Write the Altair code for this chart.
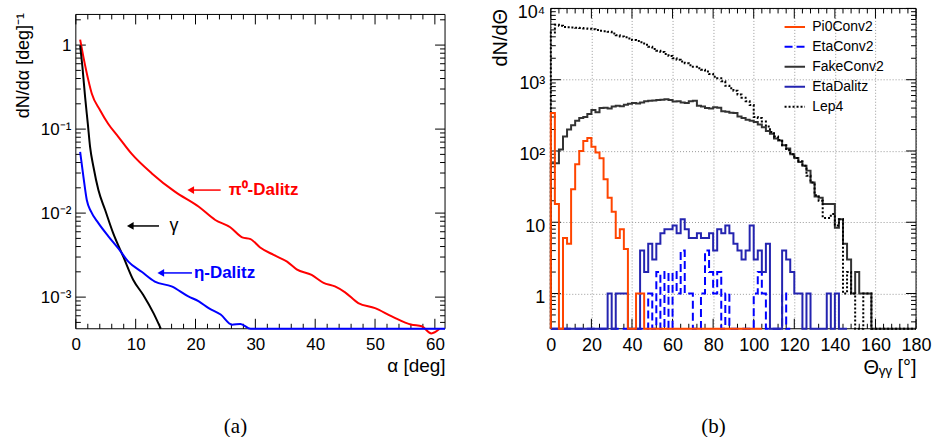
import altair as alt
import pandas as pd

FONT = "Liberation Sans"

# ---------------- panel (a) data: opening-angle distributions ----------------
pi0_x = [0.72, 1.27, 2.1, 2.66, 4.05, 5.4, 7.1, 9.3, 12.7, 16.55, 20.55, 23.3, 25.8, 27.8,
         29.2, 30.8, 33.05, 35.3, 36.9, 39.4, 41.4, 43.3, 45.0, 47.2, 50.0, 52.8, 56.1,
         57.8, 59.4, 60.8]
pi0_y = [1.16, 0.72, 0.38, 0.265, 0.168, 0.116, 0.081, 0.051, 0.0297, 0.018, 0.0119,
         0.00828, 0.00678, 0.00515, 0.0049, 0.0039, 0.00318, 0.00264, 0.00214, 0.00184,
         0.00148, 0.00134, 0.00114, 0.00085, 0.00074, 0.00059, 0.00047, 0.00045, 0.00037,
         0.00042]
gam_x = [0.72, 1.1, 1.55, 2.0, 2.38, 2.94, 3.77, 4.9, 6.27, 7.93, 9.6, 11.27, 13.0, 14.2]
gam_y = [0.99, 0.55, 0.24, 0.116, 0.0616, 0.0356, 0.0188, 0.0109, 0.0057, 0.00303, 0.0016,
         0.00106, 0.00064, 0.00042]
eta_x = [0.72, 1.27, 1.83, 2.55, 3.77, 5.44, 7.1, 8.77, 11.0, 13.2, 16.0, 18.8, 20.55, 22.2,
         24.2, 26.1, 27.5, 29.2, 61.7]
eta_y = [0.0537, 0.027, 0.0143, 0.0104, 0.0076, 0.0053, 0.0038, 0.00265, 0.0020, 0.00153,
         0.00134, 0.00102, 0.00089, 0.00074, 0.00062, 0.00047, 0.00048, 0.00042, 0.00042]

ann_text = ["π⁰-Dalitz", "γ", "η-Dalitz"]
ann_color = ["#ff0000", "#000000", "#0000ff"]
ann_weight = ["bold", "normal", "bold"]
ann_text_x = [25.2, 15.3, 19.4]
ann_tail_x = [24.2, 13.9, 19.4]
ann_head_x = [19.2, 9.1, 14.2]
ann_y = [0.0188, 0.00703, 0.00194]

# ---------------- panel (b) data: 2-degree bins starting at 0 ----------------
BIN = 2
pi0conv2 = [340, 18, 0, 6, 5, 29, 65, 100, 138, 152, 115, 95, 79, 40, 22, 14, 6, 8, 4.2,
            0, 0, 1, 1, 0, 0, 0, 0, 0, 0, 0, 0, 0, 0, 0, 0, 0, 0, 0, 0, 0, 0, 0, 0, 0, 0,
            0, 0, 0, 0, 0, 0, 0]
etaconv2 = [0, 0, 0, 0, 0, 0, 0, 0, 0, 0, 0, 0, 0, 0, 0, 0, 0, 0, 0, 0, 0, 0, 0, 0,
            1, 0, 2, 0, 2, 0, 2, 1, 4, 1, 1, 0, 0, 1, 4, 2, 1, 2, 0, 1, 0, 0, 0, 0, 0,
            0, 1, 2, 1, 0, 0, 0, 0, 1, 0]
fakeconv2 = [67, 67, 105, 160, 200, 230, 265, 290, 300, 330, 375, 350, 400, 405, 395, 420,
             430, 425, 445, 460, 470, 465, 480, 500, 505, 510, 520, 525, 530, 520, 495, 500,
             480, 470, 500, 505, 430, 420, 400, 395, 410, 405, 360, 355, 345, 340, 305, 290,
             275, 265, 255, 235, 215, 190, 175, 150, 140, 120, 108, 90, 80, 70, 62, 53, 36,
             23, 22, 18, 18, 18, 8.4, 11, 5, 3, 1, 2, 1, 1, 1, 0, 0, 0, 0, 0, 0, 0, 0, 0,
             0, 0]
etadalitz = [0, 0, 0, 0, 0, 0, 0, 0, 0, 0, 0, 0, 0, 0, 1, 0, 1, 1, 1, 0, 0, 0, 4, 2, 5, 3,
             5, 7, 8, 8, 9, 7, 11, 8, 6, 6, 7, 6, 6, 7, 4, 8, 7, 9, 7, 5, 4, 3, 4, 9, 3, 4,
             2, 5, 0, 0, 0, 4, 3, 2, 1, 1, 0, 1, 0, 0, 0, 0, 1, 0, 1, 0, 0]
lep4 = [4600, 5900, 5700, 5500, 5450, 5400, 5350, 5300, 5250, 5200, 5100, 5000, 4850, 4800,
        4700, 4450, 4200, 4050, 3950, 3800, 3600, 3500, 3350, 3100, 2900, 2700, 2550, 2450,
        2300, 2150, 2000, 1900, 1800, 1700, 1600, 1520, 1450, 1380, 1300, 1200, 1100, 1050,
        950, 820, 760, 700, 620, 560, 500, 440, 300, 290, 260, 220, 185, 160, 143, 120, 103,
        90, 80, 72, 62, 45, 36, 24, 20, 11.5, 11.5, 13, 9, 11, 1, 2, 1, 0, 0, 1, 1, 0, 0, 0,
        0, 0, 0, 0, 0, 0, 0, 0]

series_names = ["Pi0Conv2", "EtaConv2", "FakeConv2", "EtaDalitz", "Lep4"]
series_colors = ["#ff4500", "#0000ff", "#333333", "#2424b0", "#000000"]
series_dash = [[1, 0], [8, 4], [1, 0], [1, 0], [2, 2]]
draw_order = [("FakeConv2", fakeconv2), ("Lep4", lep4), ("EtaConv2", etaconv2),
              ("EtaDalitz", etadalitz), ("Pi0Conv2", pi0conv2)]

# axis tick positions
a_x_major = [0, 10, 20, 30, 40, 50, 60]
a_y_major = [1, 0.1, 0.01, 0.001]
b_x_major = [0, 20, 40, 60, 80, 100, 120, 140, 160, 180]
b_y_major = [1, 10, 100, 1000, 10000]

# ---------------- geometry ----------------
W1, H1 = 370, 321      # plot area of (a); its frame starts TOP_A px below the top
TOP_A = 6
W2, H2 = 366, 321
XMAX_A = 61.7
YMIN_A, YMAX_A = 4.2e-4, 2.73
YMIN_B, YMAX_B = 0.32, 10000


def log_minors(lo, hi):
    out = []
    dec = 1e-5
    while dec < hi * 10:
        for m in range(2, 10):
            v = m * dec
            if lo <= v <= hi:
                out.append(v)
        dec *= 10
    return out


a_x_minor = [v for v in range(0, 62, 2) if v % 10]
b_x_minor = [v for v in range(0, 181, 4) if v % 20]
a_y_minor = [v for v in log_minors(YMIN_A, YMAX_A) if v < 2.4]
b_y_minor = log_minors(YMIN_B, YMAX_B)


def frame_layer(W, H, top):
    return alt.Chart(pd.DataFrame({"f": [0]})).mark_rect(
        filled=False, stroke="black", strokeWidth=1).encode(
        x=alt.value(0), x2=alt.value(W), y=alt.value(top), y2=alt.value(H))


def tick_layers(xs_maj, xs_min, ys_maj, ys_min, xenc, yenc, W, H, top, lmaj, lmin):
    layers = []
    for vals, L in ((xs_maj, lmaj), (xs_min, lmin)):
        d = pd.DataFrame({"x": vals})
        b = alt.Chart(d).mark_rule(color="black", strokeWidth=1)
        layers.append(b.encode(x=xenc, y=alt.value(H), y2=alt.value(H - L)))
        layers.append(b.encode(x=xenc, y=alt.value(top), y2=alt.value(top + L)))
    for vals, L in ((ys_maj, lmaj), (ys_min, lmin)):
        d = pd.DataFrame({"y": vals})
        b = alt.Chart(d).mark_rule(color="black", strokeWidth=1)
        layers.append(b.encode(y=yenc, x=alt.value(0), x2=alt.value(L)))
        layers.append(b.encode(y=yenc, x=alt.value(W), x2=alt.value(W - L)))
    return layers


# ---------------- panel (a) ----------------
xa = alt.Scale(domain=[0, XMAX_A], nice=False, zero=False)
ya = alt.Scale(type="log", domain=[YMIN_A, YMAX_A], nice=False)

ax_xa = alt.Axis(values=a_x_major, ticks=False, domain=False, grid=False, labelOverlap=False,
                 labelFlush=False,
                 labelFontSize=17, labelPadding=8, labelFont=FONT, labelColor="black",
                 title="α [deg]", titleFont=FONT, titleFontSize=19, titleFontWeight="normal",
                 titleColor="black", titleX=W1, titleY=37, titleAlign="right",
                 titleBaseline="middle")
ax_ya = alt.Axis(values=a_y_major, ticks=False, domain=False, grid=False, labelOverlap=False,
                 labelFlush=False,
                 labelFontSize=17, labelPadding=5, labelFont=FONT, labelColor="black",
                 labelExpr="datum.value > 0.5 ? '1' : datum.value > 0.05 ? '10⁻¹' : datum.value > 0.005 ? '10⁻²' : '10⁻³'",
                 title="dN/dα [deg]⁻¹", titleFont=FONT, titleFontSize=18,
                 titleFontWeight="normal", titleColor="black", titleX=-52, titleY=TOP_A - 2,
                 titleAlign="right", titleBaseline="middle", titleAngle=270)
XA = alt.X("x:Q", scale=xa, axis=ax_xa)
YA = alt.Y("y:Q", scale=ya, axis=ax_ya)


def curve(xs, ys, color):
    d = pd.DataFrame({"x": xs, "y": ys})
    return alt.Chart(d).mark_line(color=color, strokeWidth=2, interpolate="monotone").encode(
        x=XA, y=YA)


ann = pd.DataFrame({"t": ann_text, "c": ann_color, "w": ann_weight, "tx": ann_text_x,
                    "x": ann_tail_x, "x2": ann_head_x, "y": ann_y})
arrows = alt.Chart(ann).mark_rule(strokeWidth=1.5).encode(
    x=XA, x2="x2:Q", y=YA, color=alt.Color("c:N", scale=None))
heads = alt.Chart(ann).transform_calculate(x="datum.x2").mark_point(
    shape="triangle-left", filled=True, size=60, opacity=1).encode(
    x=XA, y=YA, color=alt.Color("c:N", scale=None))
labels_bold = alt.Chart(ann).transform_filter("datum.w == 'bold'").transform_calculate(
    x="datum.tx").mark_text(
    align="left", baseline="middle", font=FONT, fontSize=17, fontWeight="bold", dx=2).encode(
    x=XA, y=YA, text="t:N", color=alt.Color("c:N", scale=None))
labels_norm = alt.Chart(ann).transform_filter("datum.w == 'normal'").transform_calculate(
    x="datum.tx").mark_text(
    align="left", baseline="middle", font=FONT, fontSize=18, dx=2).encode(
    x=XA, y=YA, text="t:N", color=alt.Color("c:N", scale=None))

left = alt.layer(
    frame_layer(W1, H1, TOP_A),
    *tick_layers(a_x_major, a_x_minor, a_y_major, a_y_minor, XA, YA, W1, H1, TOP_A, 10, 5),
    curve(pi0_x, pi0_y, "#ff0000"),
    curve(gam_x, gam_y, "#000000"),
    curve(eta_x, eta_y, "#0000ff"),
    arrows, heads, labels_bold, labels_norm,
).properties(width=W1, height=H1,
             title=alt.TitleParams("(a)", orient="bottom", font="Liberation Serif",
                                   fontSize=21, fontWeight="normal", color="black",
                                   anchor="middle", frame="group", offset=40, dx=-25))

# ---------------- panel (b) ----------------
xb = alt.Scale(domain=[0, 180], nice=False, zero=False)
yb = alt.Scale(type="log", domain=[YMIN_B, YMAX_B], nice=False)

ax_xb = alt.Axis(values=b_x_major, ticks=False, domain=False, grid=True, labelOverlap=False,
                 labelFlush=False,
                 gridDash=[1, 2], gridColor="#999999", gridWidth=1,
                 labelFontSize=18, labelPadding=8, labelFont=FONT, labelColor="black",
                 title="Θᵧᵧ [°]", titleFont=FONT, titleFontSize=20, titleFontWeight="normal",
                 titleColor="black", titleX=W2, titleY=39, titleAlign="right",
                 titleBaseline="middle")
ax_yb = alt.Axis(values=b_y_major, ticks=False, domain=False, grid=True, labelOverlap=False,
                 labelFlush=False,
                 gridDash=[1, 2], gridColor="#999999", gridWidth=1,
                 labelFontSize=18, labelPadding=6, labelFont=FONT, labelColor="black",
                 labelOffset=4,
                 labelExpr="datum.value > 5000 ? '10⁴' : datum.value > 500 ? '10³' : datum.value > 50 ? '10²' : datum.value > 5 ? '10' : '1'",
                 title="dN/dΘ", titleFont=FONT, titleFontSize=20, titleFontWeight="normal",
                 titleColor="black", titleX=-50, titleY=0, titleAlign="right",
                 titleBaseline="middle", titleAngle=270)
XB = alt.X("x:Q", scale=xb, axis=ax_xb)
YB = alt.Y("y:Q", scale=yb, axis=ax_yb)

leg = alt.Legend(orient="none", legendX=233, legendY=7, title=None, symbolType="stroke",
                 symbolSize=420, symbolStrokeWidth=2, labelFont=FONT, labelFontSize=14,
                 labelColor="black", rowPadding=1, labelOffset=6, padding=0)


def hist(name, vals):
    xs = [0]
    ys = [YMIN_B]
    for i, v in enumerate(vals):
        xs.append(BIN * i)
        ys.append(max(v, YMIN_B))
    xs.append(BIN * len(vals))
    ys.append(YMIN_B)
    d = pd.DataFrame({"x": xs, "y": ys, "series": name})
    return alt.Chart(d).mark_line(interpolate="step-after", strokeWidth=2).encode(
        x=XB, y=YB,
        color=alt.Color("series:N", scale=alt.Scale(domain=series_names, range=series_colors),
                        legend=leg),
        strokeDash=alt.StrokeDash("series:N",
                                  scale=alt.Scale(domain=series_names, range=series_dash),
                                  legend=leg),
    )


right = alt.layer(
    frame_layer(W2, H2, 0),
    *tick_layers(b_x_major, b_x_minor, b_y_major, b_y_minor, XB, YB, W2, H2, 0, 10, 5),
    *[hist(n, v) for n, v in draw_order],
).properties(width=W2, height=H2,
             title=alt.TitleParams("(b)", orient="bottom", font="Liberation Serif",
                                   fontSize=21, fontWeight="normal", color="black",
                                   anchor="middle", frame="group", offset=38, dx=-20))

chart = alt.hconcat(left, right, spacing=42).resolve_scale(
    color="independent", strokeDash="independent"
).resolve_legend(
    color="independent", strokeDash="independent"
).properties(
    padding={"left": 15, "top": 3, "right": 0, "bottom": 0}
).configure_view(stroke="transparent", strokeWidth=0)

chart.save("out.html", embed_options={"renderer": "svg", "actions": False})
